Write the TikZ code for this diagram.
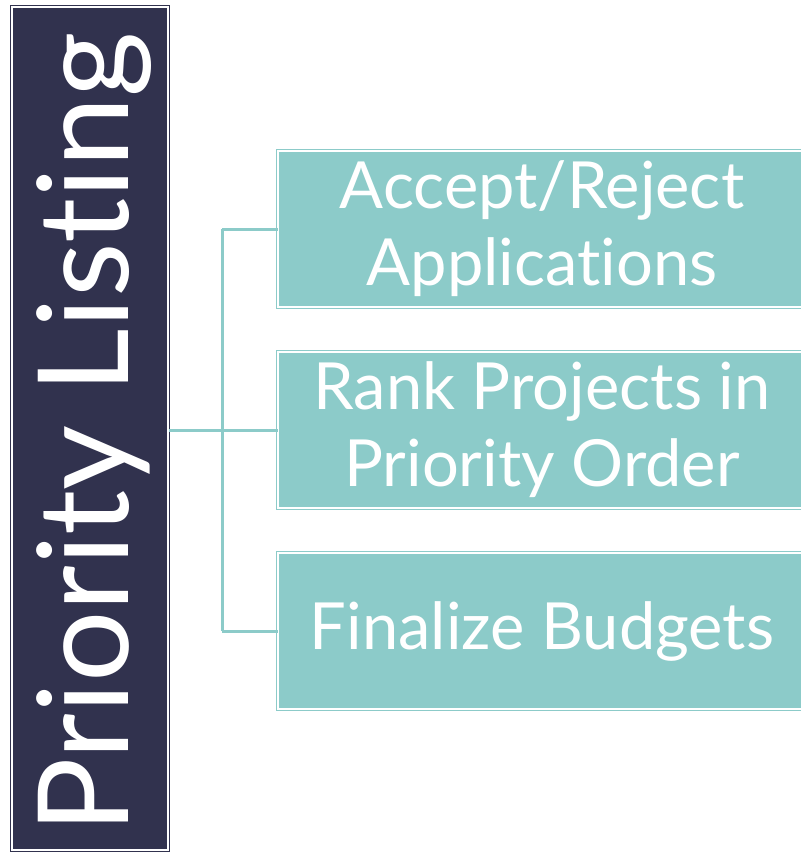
\documentclass[tikz,border=0pt]{standalone}
\usepackage{fontspec}
\setmainfont{Lato}[Ligatures={NoCommon,NoRequired,NoContextual}]
\definecolor{navy}{HTML}{31324E}
\definecolor{teal}{HTML}{8CCBC9}
\newcommand{\nolig}{\kern0pt\relax}
\tikzset{
  titlebox/.style={draw=navy, line width=1pt, double=white, double distance=2pt, fill=navy, inner sep=0pt, minimum width=156pt, minimum height=843pt},
  taskbox/.style={draw=teal, line width=1pt, double=white, double distance=2pt, fill=teal, inner sep=0pt, minimum width=528pt, minimum height=156pt, text=white, font=\fontsize{65}{77}\selectfont, align=center},
  link/.style={draw=teal, line width=3pt}
}
\begin{document}
\begin{tikzpicture}[x=1pt,y=-1pt]
\useasboundingbox (0,0) rectangle (800,853);
\draw (90,428.5) node[titlebox](list) {};
\draw (128,433) node[rotate=90, anchor=base, text=white, font=\fontsize{126}{140}\selectfont](title) {Priority List\nolig ing};
\draw (542,229) node[taskbox](accept) {Accept/Reject\\Applicat\nolig ions};
\draw (542,430) node[taskbox](rank) {Rank Projects in\\Priority Order};
\draw (542,631) node[taskbox](budget) {Finalize Budgets};
\coordinate (fork) at (222,430);
\draw[link] (list.east |- rank.west) -- (fork);
\draw[link] (fork |- accept.west) -- (fork |- budget.west);
\draw[link] (fork |- accept.west) -- (accept.west);
\draw[link] (fork) -- (rank.west);
\draw[link] (fork |- budget.west) -- (budget.west);
\end{tikzpicture}
\end{document}
